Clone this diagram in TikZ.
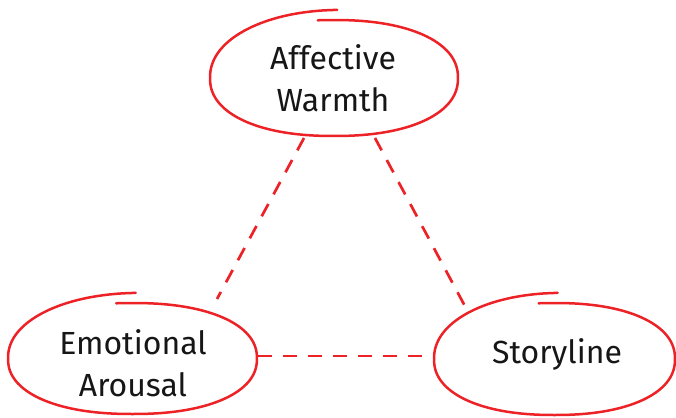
\documentclass[tikz,border=0pt]{standalone}
\usepackage{fontspec}
\setmainfont{Fira Sans}
\usetikzlibrary{calc}
\definecolor{penred}{RGB}{236,34,38}
\definecolor{ink}{RGB}{22,22,22}
% Hand-drawn oval: a slightly full ellipse traced clockwise from just left of
% the top, whose last quarter drifts outwards so the stroke overshoots its start.
% #1,#2 centre; #3,#4 half axes
\newcommand\sketchoval[4]{%
  \draw[sketchline] plot[smooth, domain=264:631, samples=74, variable=\t]
   ({#1 + #3*cos(\t)*pow(abs(cos(\t))+0.0001,-0.1)},
    {#2 + (#4 + 0.095*max(0,\t-524))*sin(\t)*pow(abs(sin(\t))+0.0001,-0.1)});%
}
\begin{document}
\begin{tikzpicture}[x=1pt, y=-1pt,
  sketchline/.style={draw=penred, line width=2.5pt, line cap=round, line join=round},
  link/.style={draw=penred, line width=2.7pt, dash pattern=on 14pt off 11pt},
  lbl/.style={font=\fontsize{32}{42}\selectfont, align=center, text=ink, inner sep=0pt}]
  \useasboundingbox (0,0) rectangle (676,417);

  % outlines
  \sketchoval{334}{78}{124}{58}
  \sketchoval{132.5}{358.5}{124.5}{55.5}
  \sketchoval{554.5}{359}{120.5}{56}

  % labels
  \node[lbl] (A) at (333,78)  {Affective\\Warmth};
  \node[lbl] (E) at (133,363) {Emotional\\Arousal};
  \node[lbl] (S) at (557,354) {Storyline};

  % dashed links between the three ideas
  \draw[link] ($(A)+(-29,60)$) -- ($(E)+(84,-64)$);
  \draw[link] ($(A)+(42,60)$)  -- ($(S)+(-90,-44)$);
  \draw[link] ($(E)+(125,-7)$) -- ($(S)+(-123,2)$);
\end{tikzpicture}
\end{document}
